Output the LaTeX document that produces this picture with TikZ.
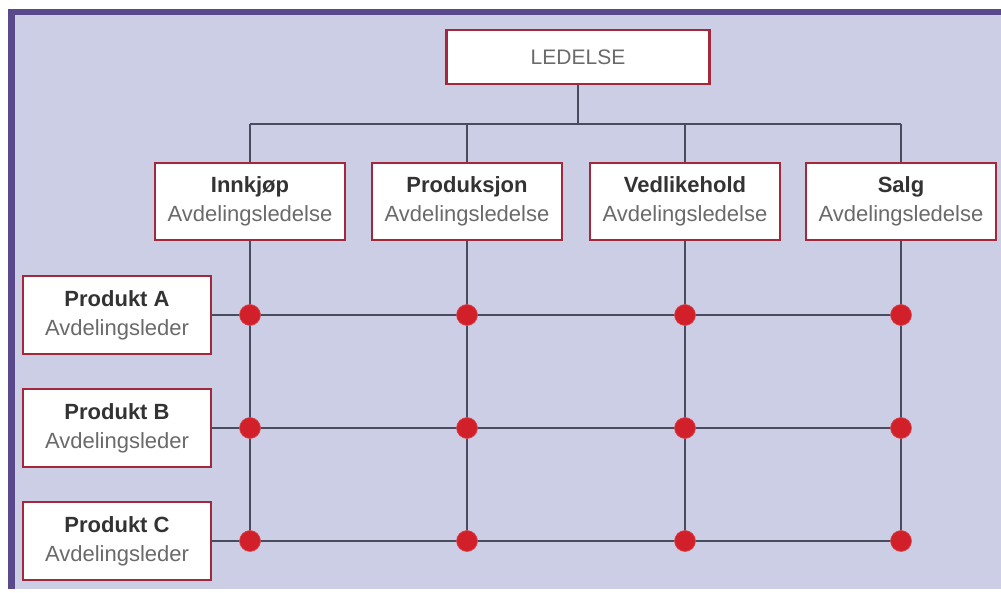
\documentclass[tikz,border=0pt]{standalone}
\usepackage{fontspec}
\setmainfont{Liberation Sans}
\definecolor{bgfill}{HTML}{CBCEE4}
\definecolor{frameline}{HTML}{5A4A8C}
\definecolor{boxline}{HTML}{A3283C}
\definecolor{conn}{HTML}{474C5E}
\definecolor{dotred}{HTML}{D2202A}
\definecolor{titletext}{HTML}{333333}
\definecolor{subtext}{HTML}{6A6A6A}
\tikzset{
  unitbox/.style={draw=boxline, line width=2.2pt, fill=white, inner sep=0pt, align=center,
    font=\fontsize{22}{29}\selectfont, text=subtext},
  deptbox/.style={unitbox, minimum width=190pt, minimum height=77pt},
  prodbox/.style={unitbox, minimum width=188pt, minimum height=78pt},
  topbox/.style={unitbox, minimum width=263pt, minimum height=54pt, font=\fontsize{21}{26}\selectfont},
  conline/.style={draw=conn, line width=2pt},
  junction/.style={circle, fill=dotred, draw=dotred!80!white, line width=0.6pt, minimum size=21pt, inner sep=0pt},
}
\newcommand{\ttl}[1]{{\color{titletext}\bfseries #1}}
\begin{document}
\begin{tikzpicture}[x=1pt,y=-1pt]
\useasboundingbox (0,0) rectangle (1001,593);
\fill[white] (0,0) rectangle (1001,593);
\fill[bgfill] (8,9) rectangle (1001,589);
\fill[frameline] (8,9) rectangle (15,589);
\fill[frameline] (8,9) rectangle (1001,15);

\node[topbox] (led) at (578,57) {LEDELSE};

\node[deptbox] (d1) at (250,201.5) {\ttl{Innkjøp}\\Avdelingsledelse};
\node[deptbox] (d2) at (467,201.5) {\ttl{Produksjon}\\Avdelingsledelse};
\node[deptbox] (d3) at (685,201.5) {\ttl{Vedlikehold}\\Avdelingsledelse};
\node[deptbox] (d4) at (901,201.5) {\ttl{Salg}\\Avdelingsledelse};

\node[prodbox] (pa) at (117,315) {\ttl{Produkt A}\\Avdelingsleder};
\node[prodbox] (pb) at (117,428) {\ttl{Produkt B}\\Avdelingsleder};
\node[prodbox] (pc) at (117,541) {\ttl{Produkt C}\\Avdelingsleder};

% top tree
\coordinate (bus) at (578,124);
\draw[conline] (led.south) -- (led.south |- bus);
\draw[conline] (d1.north |- bus) -- (d4.north |- bus);
\foreach \d in {d1,d2,d3,d4} {
  \draw[conline] (\d.north |- bus) -- (\d.north);
}

% matrix lines
\foreach \p in {pa,pb,pc} {
  \draw[conline] (\p.east) -- (d4.south |- \p.east);
}
\foreach \d in {d1,d2,d3,d4} {
  \draw[conline] (\d.south) -- (\d.south |- pc.east);
}
\foreach \p in {pa,pb,pc} {
  \foreach \d/\n in {d1/1,d2/2,d3/3,d4/4} {
    \node[junction] (j\p\n) at (\d.south |- \p.east) {};
  }
}
\end{tikzpicture}
\end{document}
